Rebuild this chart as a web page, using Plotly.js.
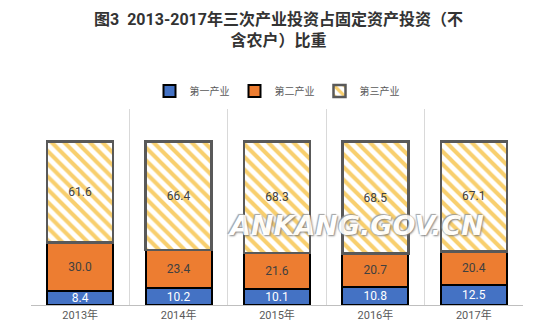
<!DOCTYPE html>
<html>
<head>
<meta charset="utf-8">
<script src="https://cdn.plot.ly/plotly-3.0.1.min.js"></script>
<style>html,body{margin:0;padding:0;background:#fff;}#chart{width:557px;height:330px;}</style>
</head>
<body>
<div id="chart"></div>
<script>
const categories = ["2013年", "2014年", "2015年", "2016年", "2017年"];
const primary = [8.4, 10.2, 10.1, 10.8, 12.5];
const secondary = [30.0, 23.4, 21.6, 20.7, 20.4];
const tertiary = [61.6, 66.4, 68.3, 68.5, 67.1];
const seriesNames = ["第一产业", "第二产业", "第三产业"];

const font = "Roboto, Noto Sans CJK SC, sans-serif";
const fmt = v => v.toFixed(1);

const common = {type: "bar", textposition: "inside", insidetextanchor: "middle",
  constraintext: "none", cliponaxis: false, width: 0.67, hoverinfo: "skip"};

const traces = [
  Object.assign({}, common, {
    name: seriesNames[0], x: categories, y: primary, text: primary.map(fmt),
    textfont: {color: "#ffffff", size: 12, family: font},
    marker: {color: "#4472C4", line: {color: "#000000", width: 2}}
  }),
  Object.assign({}, common, {
    name: seriesNames[1], x: categories, y: secondary, text: secondary.map(fmt),
    textfont: {color: "#404040", size: 12, family: font},
    marker: {color: "#ED7D31", line: {color: "#000000", width: 2}}
  }),
  Object.assign({}, common, {
    name: seriesNames[2], x: categories, y: tertiary, text: tertiary.map(fmt),
    textfont: {color: "#404040", size: 12, family: font},
    marker: {color: "#ffffff", line: {color: "#595959", width: 2.5},
      pattern: {shape: "\\", fgcolor: "#F8CF6E", bgcolor: "#ffffff", size: 9, solidity: 0.45}}
  })
];

const layout = {
  width: 557, height: 330,
  margin: {l: 31, r: 34, t: 109, b: 25},
  paper_bgcolor: "#ffffff", plot_bgcolor: "#ffffff",
  barmode: "stack",
  showlegend: true,
  title: {
    text: "<b>图3  2013-2017年三次产业投资占固定资产投资（不<br>含农户）比重</b>",
    font: {family: font, size: 16, color: "#333333"},
    x: 0.5, xanchor: "center", y: 0.925, yanchor: "middle", yref: "container"
  },
  legend: {
    orientation: "h", traceorder: "normal", x: 0.5, xanchor: "center", y: 1.092, yanchor: "middle",
    font: {family: font, size: 10, color: "#595959"},
    itemwidth: 30, tracegroupgap: 0, itemclick: false
  },
  xaxis: {
    type: "category", tickson: "boundaries", showgrid: true, gridcolor: "#d9d9d9", gridwidth: 1,
    showline: true, linecolor: "#bfbfbf", linewidth: 1, ticks: "",
    tickfont: {family: font, size: 11, color: "#595959"}, fixedrange: true
  },
  yaxis: {range: [0, 120], visible: false, showgrid: false, zeroline: false, fixedrange: true},
  annotations: [{
    text: "<b><i>ANKANG.GOV.CN</i></b>", xref: "paper", yref: "paper",
    x: 0.66, y: 0.316, showarrow: false,
    font: {family: "DejaVu Sans, sans-serif", size: 27, color: "#ffffff", shadow: "1px 1px 2px #777, -1px -1px 1px #999"},
    opacity: 0.9
  }]
};

Plotly.newPlot("chart", traces, layout, {displayModeBar: false, staticPlot: true});
</script>
</body>
</html>
